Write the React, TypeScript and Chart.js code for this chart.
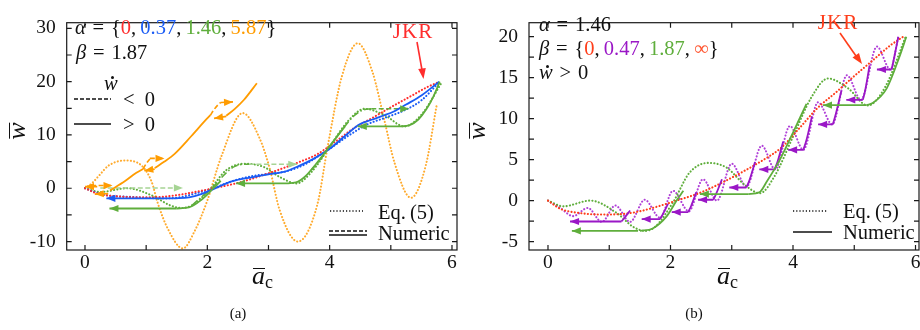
import React, { useEffect, useRef } from 'react';
import { Chart, registerables } from 'chart.js';

Chart.register(...registerables);

type P = [number, number];

const FONT = "'Liberation Serif', 'DejaVu Serif', serif";

// ---------- ticks ----------
const xTicksA = [0, 2, 4, 6];
const xMinorA = [1, 3, 5];
const yTicksA = [-10, 0, 10, 20, 30];
const yMinorA = [-5, 5, 15, 25];
const xTicksB = [0, 2, 4, 6];
const xMinorB = [1, 3, 5];
const yTicksB = [-5, 0, 5, 10, 15, 20];
const yMinorB = [-2.5, 2.5, 7.5, 12.5, 17.5];

// ---------- JKR (alpha = 0 / beta = 0) ----------
const jkrCurve: P[] = [[0, 0], [0.2, -1.0], [0.5, -1.5], [0.85, -1.7], [1.2, -1.65], [1.5, -1.3], [1.8, -0.7], [2.1, 0], [2.5, 1.0], [3.0, 2.8], [3.5, 4.9], [3.8, 6.4], [4.1, 8.8], [4.4, 11.3], [4.7, 13.2], [5.0, 15.2], [5.3, 17.1], [5.6, 19.0], [5.8, 20.0]];

// ---------- panel (a): alpha = 0.37 ----------
const blueEq5: P[] = [[0, 0], [0.2, -0.9], [0.4, -1.4], [0.7, -1.6], [1.0, -1.8], [1.3, -1.9], [1.55, -1.7], [1.8, -1.0], [2.1, 0], [2.4, 1.3], [2.7, 2.2], [3.0, 2.7], [3.3, 3.2], [3.6, 4.5], [3.85, 6.3], [4.0, 7.4], [4.3, 9.8], [4.6, 11.9], [4.9, 13.2], [5.2, 14.5], [5.5, 16.5], [5.8, 20]];
const blueNum: P[] = [[1.45, -1.9], [1.7, -1.7], [1.9, -1.1], [2.09, -0.2], [2.4, 1.3], [2.75, 2.1], [3.0, 2.6], [3.23, 3.0], [3.5, 4.2], [3.75, 5.6], [4.0, 7.4], [4.25, 9.8], [4.49, 12.0], [4.7, 12.9], [4.87, 13.6], [5.05, 14.4], [5.25, 15.7], [5.5, 17.4], [5.79, 20]];
const blueJump: P[] = [[1.45, -1.9], [0.35, -1.9]];

// ---------- alpha = 1.46, beta = 1.87 ----------
const greenEq5: P[] = [[0, 0], [0.25, -0.7], [0.69, 0], [1.12, -1.5], [1.39, -3.2], [1.58, -3.7], [1.75, -3.2], [2.05, -0.1], [2.31, 3.4], [2.62, 4.6], [2.92, 4.0], [3.2, 2.0], [3.46, 0.9], [3.7, 3.0], [4.0, 7.8], [4.3, 12.6], [4.57, 14.9], [4.9, 13.7], [5.22, 11.6], [5.5, 13.8], [5.84, 20]];
const greenUp1: P[] = [[1.5, -3.8], [1.7, -3.6], [1.9, -2.2], [2.1, 0], [2.22, 1.4]];
const greenUp2: P[] = [[3.27, 0.9], [3.45, 1.1], [3.6, 2.2], [3.78, 4.6], [4.0, 7.9], [4.25, 11.6]];
const greenUp3: P[] = [[5.15, 11.6], [5.3, 11.8], [5.45, 12.9], [5.58, 14.8], [5.7, 17.3], [5.8, 20]];
const greenJump1: P[] = [[1.5, -3.8], [0.4, -3.8]];
const greenJump2: P[] = [[3.27, 0.9], [2.47, 0.9]];
const greenJump3: P[] = [[5.15, 11.6], [4.46, 11.6]];
const greenDn1: P[] = [[1.75, -3.2], [1.95, -1.2], [2.1, 0.3], [2.3, 2.8], [2.45, 4.1], [2.6, 4.5], [2.68, 4.5]];
const greenDn2: P[] = [[3.7, 3.4], [3.85, 5.4], [4.0, 7.8], [4.2, 10.9], [4.4, 13.6], [4.55, 14.7], [4.68, 14.9]];
const greenDnJump1: P[] = [[2.68, 4.5], [3.47, 4.5]];
const greenDnJump2: P[] = [[4.68, 14.9], [5.3, 14.9]];
const greenDnJump0: P[] = [[0.25, 0.05], [1.6, 0.05]];

// ---------- alpha = 5.87 ----------
const orangeEq5: P[] = [[0, 0], [0.12, 1.0], [0.24, 2.5], [0.38, 4.2], [0.65, 5.2], [0.93, 4.2], [1.09, 1.2], [1.19, -2.8], [1.35, -7.5], [1.6, -11.3], [1.79, -8.1], [2.0, -2.3], [2.23, 6.0], [2.58, 14.1], [2.85, 9.5], [3.02, 3.7], [3.18, -4.0], [3.48, -10.0], [3.8, -3.0], [3.97, 8.0], [4.2, 21.0], [4.46, 27.2], [4.7, 21.8], [4.9, 12.5], [5.06, 4.8], [5.33, -1.8], [5.57, 4.2], [5.75, 15.6]];
const orangeUp1: P[] = [[0.41, -0.4], [0.65, 1.3], [0.84, 2.9], [0.95, 3.6]];
const orangeUp2: P[] = [[1.14, 3.8], [1.3, 5.0], [1.47, 6.5], [1.74, 9.8], [1.99, 13.0], [2.05, 13.7]];
const orangeUp3: P[] = [[2.31, 13.6], [2.45, 14.9], [2.6, 16.6], [2.81, 19.7]];
const orangeDn1: P[] = [[0.95, 3.6], [1.0, 4.6], [1.06, 5.5]];
const orangeDn2: P[] = [[2.05, 13.7], [2.1, 14.6], [2.17, 15.6], [2.22, 16.1]];
const orangeJumpL: P[][] = [[[1.14, 3.6], [0.97, 3.3]], [[2.31, 13.5], [2.11, 13.1]], [[0.2, 0.3], [0.0, 0.3]], [[0.38, -1.0], [0.16, -1.1]]];
const orangeJumpR: P[][] = [[[1.06, 5.6], [1.3, 5.6]], [[2.22, 16.1], [2.42, 16.2]], [[0.1, 0.5], [0.45, 0.5]]];

// ---------- panel (b): beta = 0.47 ----------
const purpleEq5: P[] = [[0, 0], [0.2, -0.9], [0.41, -1.9], [0.65, -0.9], [0.88, -2.6], [1.1, -0.6], [1.34, -2.6], [1.58, 0.1], [1.83, -2.1], [2.04, 1.2], [2.3, -1.3], [2.53, 2.6], [2.76, 0.0], [3.0, 4.5], [3.24, 1.7], [3.49, 6.7], [3.71, 3.8], [3.95, 9.1], [4.17, 6.2], [4.41, 12.0], [4.64, 9.3], [4.88, 15.3], [5.11, 12.3], [5.37, 18.8], [5.59, 16.0], [5.72, 20]];
const purpleUp: P[][] = [
  [[1.2, -2.55], [1.26, -2.0], [1.34, -1.2]],
  [[1.83, -2.25], [1.88, -1.6], [1.96, -0.4]],
  [[2.29, -1.4], [2.34, -0.6], [2.42, 1.0]],
  [[2.7, 0.1], [2.75, 0.9], [2.84, 2.6]],
  [[3.24, 1.6], [3.29, 2.5], [3.38, 4.7]],
  [[3.7, 3.8], [3.75, 4.8], [3.84, 7.2]],
  [[4.17, 6.2], [4.22, 7.4], [4.31, 10.3]],
  [[4.65, 9.3], [4.7, 10.6], [4.79, 13.4]],
  [[5.14, 12.3], [5.18, 13.5], [5.25, 16.5]],
  [[5.61, 16.0], [5.65, 17.4], [5.72, 20]],
];
const purpleJumps: P[][] = [
  [[1.2, -2.55], [0.36, -2.55]],
  [[1.83, -2.25], [1.53, -2.25]],
  [[2.29, -1.4], [2.02, -1.4]],
  [[2.7, 0.1], [2.45, 0.1]],
  [[3.24, 1.6], [2.96, 1.6]],
  [[3.7, 3.8], [3.45, 3.8]],
  [[4.17, 6.2], [3.92, 6.2]],
  [[4.65, 9.3], [4.41, 9.3]],
  [[5.14, 12.3], [4.87, 12.3]],
  [[5.61, 16.0], [5.37, 16.0]],
];
const greenBUp1: P[] = [[1.5, -3.7], [1.71, -3.4], [1.94, -1.9], [2.1, 0], [2.21, 1.2]];
const greenBUp2: P[] = [[3.27, 0.8], [3.45, 1.0], [3.57, 2.3], [3.78, 4.9], [4.0, 8.3], [4.22, 11.8]];
const greenBUp3: P[] = [[5.2, 11.65], [5.3, 11.9], [5.53, 13.7], [5.74, 17.6], [5.85, 20]];
const greenBJumps: P[][] = [[[1.47, -3.7], [0.39, -3.7]], [[3.27, 0.8], [2.48, 0.8]], [[5.2, 11.65], [4.49, 11.65]]];

// ---------- colours ----------
const RED = '#ff2d2d';
const REDB = '#ff3d1a';
const BLUE = '#1a5cf5';
const GREEN = '#5fae3c';
const LGREEN = '#a6d494';
const ORANGE = '#ff9c00';
const ORANGE_DOT = '#ffab2e';
const PURPLE = '#9a17c6';
const PURPLE_DOT = '#b040d8';

const xy = (p: P[]) => p.map(([x, y]) => ({ x, y }));

function ds(data: P[], color: string, style: 'solid' | 'dash' | 'dashdot' | 'dot', arrow = false): any {
  const o: any = {
    data: xy(data), borderColor: color, backgroundColor: color, pointRadius: 0, pointHoverRadius: 0,
    fill: false, cubicInterpolationMode: 'monotone', borderWidth: 1.8, arrow,
  };
  if (style === 'dash') { o.borderDash = [5, 2.5]; o.borderWidth = 1.6; o.order = 1; }
  else if (style === 'dashdot') { o.borderDash = [7, 2.5, 1.5, 2.5]; o.borderWidth = 1.6; o.order = 1; }
  else if (style === 'dot') { o.borderDash = [0.1, 3.2]; o.borderCapStyle = 'round'; o.borderWidth = 2.1; o.order = 2; }
  else o.order = 0;
  return o;
}

function framePlugin(xt: number[], yt: number[]) {
  return {
    id: 'frame',
    afterDatasetsDraw(chart: any) {
      const { ctx, chartArea: a, scales } = chart;
      ctx.save();
      ctx.strokeStyle = '#1a1a1a';
      ctx.lineWidth = 1.2;
      ctx.strokeRect(a.left, a.top, a.right - a.left, a.bottom - a.top);
      const L = 5;
      ctx.beginPath();
      for (const v of xt) {
        const px = scales.x.getPixelForValue(v);
        ctx.moveTo(px, a.bottom); ctx.lineTo(px, a.bottom - L);
        ctx.moveTo(px, a.top); ctx.lineTo(px, a.top + L);
      }
      for (const v of yt) {
        const py = scales.y.getPixelForValue(v);
        ctx.moveTo(a.left, py); ctx.lineTo(a.left + L, py);
        ctx.moveTo(a.right, py); ctx.lineTo(a.right - L, py);
      }
      ctx.stroke();
      ctx.restore();
    },
  };
}

const arrowPlugin = {
  id: 'arrowheads',
  afterDatasetsDraw(chart: any) {
    const ctx = chart.ctx;
    chart.data.datasets.forEach((d: any, i: number) => {
      if (!d.arrow) return;
      const pts = chart.getDatasetMeta(i).data;
      const n = pts.length;
      if (n < 2) return;
      const p1 = pts[n - 1], p0 = pts[n - 2];
      const ang = Math.atan2(p1.y - p0.y, p1.x - p0.x);
      const L = 9, W = 3.6;
      const bx = p1.x - L * Math.cos(ang), by = p1.y - L * Math.sin(ang);
      ctx.save();
      ctx.fillStyle = d.borderColor;
      ctx.beginPath();
      ctx.moveTo(p1.x, p1.y);
      ctx.lineTo(bx + W * Math.sin(ang), by - W * Math.cos(ang));
      ctx.lineTo(bx - W * Math.sin(ang), by + W * Math.cos(ang));
      ctx.closePath();
      ctx.fill();
      ctx.restore();
    });
  },
};

interface Cfg { xmin: number; xmax: number; ymin: number; ymax: number; xt: number[]; xm: number[]; yt: number[]; ym: number[]; yw: number; padTop: number; padRight: number }

function build(canvas: HTMLCanvasElement, datasets: any[], c: Cfg) {
  const tickFont = { family: FONT, size: 19.5 };
  return new Chart(canvas, {
    type: 'line',
    data: { datasets },
    options: {
      responsive: false,
      animation: false,
      events: [],
      layout: { padding: { top: c.padTop, right: c.padRight, left: 0, bottom: 0 } },
      plugins: { legend: { display: false }, tooltip: { enabled: false } },
      scales: {
        x: {
          type: 'linear', min: c.xmin, max: c.xmax,
          grid: { display: false, drawTicks: false }, border: { display: false },
          ticks: { font: tickFont, color: '#111', padding: 1, maxRotation: 0, callback: (v: any) => String(v) },
          afterBuildTicks: (s: any) => { s.ticks = c.xt.map((v) => ({ value: v })); },
          afterFit: (s: any) => { s.height = 50; },
        },
        y: {
          type: 'linear', min: c.ymin, max: c.ymax,
          grid: { display: false, drawTicks: false }, border: { display: false },
          ticks: { font: tickFont, color: '#111', padding: 11, callback: (v: any) => String(v) },
          afterBuildTicks: (s: any) => { s.ticks = c.yt.map((v) => ({ value: v })); },
          afterFit: (s: any) => { s.width = c.yw; },
        },
      },
    } as any,
    plugins: [framePlugin([...c.xt, ...c.xm], [...c.yt, ...c.ym]), arrowPlugin],
  });
}

function datasetsA() {
  const out: any[] = [];
  out.push(ds(jkrCurve, RED, 'dot'));
  out.push(ds(blueEq5, BLUE, 'dot'));
  out.push(ds(greenEq5, GREEN, 'dot'));
  out.push(ds(orangeEq5, ORANGE_DOT, 'dot'));
  out.push(ds(greenDnJump0, LGREEN, 'dash', true));
  out.push(ds(greenDn1, GREEN, 'dashdot'));
  out.push(ds(greenDn2, GREEN, 'dashdot'));
  out.push(ds(greenDnJump1, LGREEN, 'dash', true));
  out.push(ds(greenDnJump2, GREEN, 'dash', true));
  out.push(ds(orangeDn1, ORANGE, 'dash'));
  out.push(ds(orangeDn2, ORANGE, 'dash'));
  orangeJumpR.forEach((j) => out.push(ds(j, ORANGE, 'dash', true)));
  out.push(ds(greenUp1, GREEN, 'solid'));
  out.push(ds(greenUp2, GREEN, 'solid'));
  out.push(ds(greenUp3, GREEN, 'solid'));
  out.push(ds(greenJump1, GREEN, 'solid', true));
  out.push(ds(greenJump2, GREEN, 'solid', true));
  out.push(ds(greenJump3, GREEN, 'solid', true));
  out.push(ds(orangeUp1, ORANGE, 'solid'));
  out.push(ds(orangeUp2, ORANGE, 'solid'));
  out.push(ds(orangeUp3, ORANGE, 'solid'));
  orangeJumpL.forEach((j) => out.push(ds(j, ORANGE, 'solid', true)));
  out.push(ds(blueNum, BLUE, 'solid'));
  out.push(ds(blueJump, BLUE, 'solid', true));
  return out;
}

function datasetsB() {
  const out: any[] = [];
  out.push(ds(jkrCurve, REDB, 'dot'));
  out.push(ds(greenEq5, GREEN, 'dot'));
  out.push(ds(purpleEq5, PURPLE_DOT, 'dot'));
  out.push(ds(greenBUp1, GREEN, 'solid'));
  out.push(ds(greenBUp2, GREEN, 'solid'));
  out.push(ds(greenBUp3, GREEN, 'solid'));
  greenBJumps.forEach((j) => out.push(ds(j, GREEN, 'solid', true)));
  purpleUp.forEach((s) => out.push(ds(s, PURPLE, 'solid')));
  purpleJumps.forEach((j) => out.push(ds(j, PURPLE, 'solid', true)));
  return out;
}

const TS = 20.5;

const T = ({ x, y, size = TS, color = '#111', children, center = false, ls }: any) => (
  <div style={{ position: 'absolute', left: x, top: y - size * 0.6, fontSize: size, lineHeight: `${size * 1.2}px`, color, whiteSpace: 'nowrap', letterSpacing: ls, transform: center ? 'translateX(-50%)' : undefined }}>{children}</div>
);

const Bar = ({ children, top = '0.28em' }: any) => (
  <span style={{ position: 'relative', display: 'inline-block' }}>
    {children}
    <span style={{ position: 'absolute', left: '8%', right: '0%', top, borderTop: '1.4px solid #111' }} />
  </span>
);

const WDot = () => (
  <span style={{ position: 'relative', display: 'inline-block' }}>
    <i>w</i>
    <span style={{ position: 'absolute', left: '52%', top: '0.25em', width: 3, height: 3, borderRadius: '50%', background: '#111' }} />
  </span>
);

const XTitle = ({ x, y }: any) => (
  <div style={{ position: 'absolute', left: x, top: y - 15, fontSize: 26, lineHeight: '30px', whiteSpace: 'nowrap' }}>
    <Bar><i>a</i></Bar><span style={{ fontSize: 18, position: 'relative', top: 4 }}>c</span>
  </div>
);

const YTitle = ({ x, y }: any) => (
  <div style={{ position: 'absolute', left: x, top: y, fontSize: 26, lineHeight: '30px', whiteSpace: 'nowrap', transform: 'translate(-50%, -50%) rotate(-90deg)' }}>
    <Bar><i>w</i></Bar>
  </div>
);

export default function App() {
  const refA = useRef<HTMLCanvasElement>(null);
  const refB = useRef<HTMLCanvasElement>(null);

  useEffect(() => {
    const a = build(refA.current!, datasetsA(), {
      xmin: -0.299, xmax: 6.082, ymin: -11.59, ymax: 31.06,
      xt: xTicksA, xm: xMinorA, yt: yTicksA, ym: yMinorA, yw: 66.7, padTop: 9, padRight: 3,
    });
    const b = build(refB.current!, datasetsB(), {
      xmin: -0.31, xmax: 6.057, ymin: -6.03, ymax: 21.71,
      xt: xTicksB, xm: xMinorB, yt: yTicksB, ym: yMinorB, yw: 69, padTop: 7, padRight: 11,
    });
    return () => { a.destroy(); b.destroy(); };
  }, []);

  const sp = '\u2009';
  const eq = '\u2004=\u2004';
  return (
    <div style={{ position: 'fixed', left: 0, top: 0, width: 920, height: 330, overflow: 'hidden', background: '#fff', fontFamily: FONT, color: '#111' }}>
      <canvas ref={refA} width={460} height={300} style={{ position: 'absolute', left: 0, top: 0 }} />
      <canvas ref={refB} width={470} height={300} style={{ position: 'absolute', left: 460, top: 0 }} />

      <svg width={920} height={330} style={{ position: 'absolute', left: 0, top: 0, pointerEvents: 'none' }}>
        <line x1={74} y1={99} x2={111} y2={99} stroke="#111" strokeWidth={1.4} strokeDasharray="4 2" />
        <line x1={74} y1={124} x2={111} y2={124} stroke="#111" strokeWidth={1.4} />
        <line x1={330} y1={211} x2={363} y2={211} stroke="#111" strokeWidth={1.5} strokeDasharray="1.2 2" />
        <line x1={329} y1={231} x2={367} y2={231} stroke="#111" strokeWidth={1.4} strokeDasharray="4 2" />
        <line x1={329} y1={235} x2={367} y2={235} stroke="#111" strokeWidth={1.4} />
        <line x1={793} y1={211} x2={828} y2={211} stroke="#111" strokeWidth={1.5} strokeDasharray="1.2 2" />
        <line x1={793} y1={232} x2={832} y2={232} stroke="#111" strokeWidth={1.4} />
        <line x1={417} y1={42} x2={422} y2={70} stroke={RED} strokeWidth={1.6} />
        <polygon points="423.5,79 418.2,69 425.8,68" fill={RED} />
        <line x1={840} y1={33} x2={856} y2={56} stroke={REDB} strokeWidth={1.6} />
        <polygon points="862,64 852.5,57.5 859,53" fill={REDB} />
      </svg>

      <T x={75} y={27}><i>α</i>{eq}{'{'}<span style={{ color: RED }}>0</span>,{sp}<span style={{ color: BLUE }}>0.37</span>,{sp}<span style={{ color: GREEN }}>1.46</span>,{sp}<span style={{ color: ORANGE }}>5.87</span>{'}'}</T>
      <T x={76} y={52}><i>β</i>{eq}1.87</T>
      <T x={104} y={83}><WDot /></T>
      <T x={123} y={99}>&lt;{'\u2002'}0</T>
      <T x={123} y={124}>&gt;{'\u2002'}0</T>
      <T x={378} y={212}>Eq.{sp}(5)</T>
      <T x={378} y={233}>Numeric</T>
      <T x={413} y={32} size={21} color={RED} ls={1} center>JKR</T>
      <XTitle x={252} y={276} />
      <YTitle x={17} y={131} />
      <T x={238} y={313} size={15} center>(a)</T>

      <T x={539} y={24}><i>α</i>{eq}1.46</T>
      <T x={539} y={48}><i>β</i>{eq}{'{'}<span style={{ color: REDB }}>0</span>,{sp}<span style={{ color: PURPLE }}>0.47</span>,{sp}<span style={{ color: GREEN }}>1.87</span>,{sp}<span style={{ color: '#ff5530' }}>∞</span>{'}'}</T>
      <T x={539} y={72}><WDot />{'\u2004'}&gt;{'\u2004'}0</T>
      <T x={843} y={211}>Eq.{sp}(5)</T>
      <T x={843} y={232}>Numeric</T>
      <T x={838} y={23} size={21} color={REDB} ls={1} center>JKR</T>
      <XTitle x={717} y={276} />
      <YTitle x={477} y={131} />
      <T x={694} y={313} size={15} center>(b)</T>
    </div>
  );
}
